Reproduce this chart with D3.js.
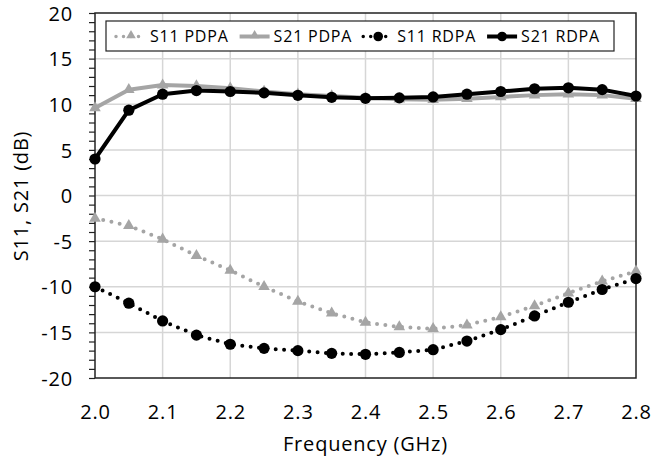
<!DOCTYPE html>
<html>
<head>
<meta charset="utf-8">
<script src="https://cdn.jsdelivr.net/npm/d3@7"></script>
<style>
  html, body { margin: 0; padding: 0; background: #fff; }
  svg text { font-family: "Open Sans", sans-serif; fill: #000; letter-spacing: 0.8px; }
</style>
</head>
<body>
<svg id="chart" width="653" height="462"></svg>
<script>
const freq = [2.0, 2.05, 2.1, 2.15, 2.2, 2.25, 2.3, 2.35, 2.4, 2.45, 2.5, 2.55, 2.6, 2.65, 2.7, 2.75, 2.8];
const s11PDPA = [-2.5, -3.3, -4.8, -6.6, -8.2, -10.0, -11.6, -12.9, -13.9, -14.4, -14.6, -14.2, -13.3, -12.1, -10.7, -9.4, -8.3];
const s21PDPA = [9.6, 11.6, 12.1, 12.0, 11.75, 11.4, 11.1, 10.9, 10.7, 10.55, 10.5, 10.6, 10.8, 11.0, 11.1, 11.0, 10.6];
const s11RDPA = [-10.0, -11.8, -13.75, -15.3, -16.3, -16.75, -17.0, -17.3, -17.4, -17.2, -16.9, -15.95, -14.7, -13.2, -11.7, -10.3, -9.1];
const s21RDPA = [4.0, 9.35, 11.1, 11.5, 11.4, 11.25, 10.98, 10.76, 10.65, 10.7, 10.8, 11.1, 11.4, 11.7, 11.8, 11.6, 10.9];
const seriesNames = ["S11 PDPA", "S21 PDPA", "S11 RDPA", "S21 RDPA"];
const xTicks = [2.0, 2.1, 2.2, 2.3, 2.4, 2.5, 2.6, 2.7, 2.8];
const yTicks = [-20, -15, -10, -5, 0, 5, 10, 15, 20];
const xTitle = "Frequency (GHz)";
const yTitle = "S11, S21 (dB)";

const svg = d3.select("#chart");
const L = 95, R = 636, T = 13, B = 378;
const x = d3.scaleLinear().domain([2.0, 2.8]).range([L, R]);
const y = d3.scaleLinear().domain([-20, 20]).range([B, T]);

const GRAY = "#a5a5a5";
const styles = [
  { name: seriesNames[0], data: s11PDPA, color: GRAY, dotted: true, marker: "tri" },
  { name: seriesNames[1], data: s21PDPA, color: GRAY, dotted: false, marker: "tri" },
  { name: seriesNames[2], data: s11RDPA, color: "#000", dotted: true, marker: "circ" },
  { name: seriesNames[3], data: s21RDPA, color: "#000", dotted: false, marker: "circ" }
];

// grid
const grid = svg.append("g");
grid.selectAll("line.v").data(xTicks.slice(1, -1)).join("line")
  .attr("x1", d => x(d)).attr("x2", d => x(d)).attr("y1", T).attr("y2", B)
  .attr("stroke", "#d6d6d6").attr("stroke-width", 1.5);
grid.selectAll("line.h").data(yTicks.slice(1, -1)).join("line")
  .attr("x1", L).attr("x2", R).attr("y1", d => y(d)).attr("y2", d => y(d))
  .attr("stroke", "#d6d6d6").attr("stroke-width", 1.5);

// left axis with minor ticks
const yAxis = d3.axisLeft(y).tickValues(d3.range(-20, 21, 1)).tickSize(6).tickFormat("");
const ya = svg.append("g").attr("transform", `translate(${L},0)`).call(yAxis);
ya.select(".domain").remove();
ya.selectAll(".tick line").attr("stroke", "#222").attr("stroke-width", 1.2);

// y tick labels
const yl = d3.axisLeft(y).tickValues(yTicks).tickSize(0).tickPadding(22).tickFormat(d => d);
const yla = svg.append("g").attr("transform", `translate(${L},0)`).call(yl);
yla.select(".domain").remove();
yla.selectAll(".tick text").attr("font-size", 20).attr("font-family", null).attr("dy", "0.36em");

// x tick labels
const xl = d3.axisBottom(x).tickValues(xTicks).tickSize(0).tickPadding(0).tickFormat(d3.format(".1f"));
const xla = svg.append("g").attr("transform", `translate(0,${B})`).call(xl);
xla.select(".domain").remove();
xla.selectAll(".tick text").attr("font-size", 20).attr("font-family", null).attr("dy", null).attr("y", 41);

// frame
svg.append("rect").attr("x", L).attr("y", T).attr("width", R - L).attr("height", B - T)
  .attr("fill", "none").attr("stroke", "#222").attr("stroke-width", 1.5);

// series
const line = d3.line().x((d, i) => x(freq[i])).y(d => y(d));
const tri = d3.symbol().type(d3.symbolTriangle).size(58);
styles.forEach(s => {
  const g = svg.append("g");
  g.append("path").attr("d", line(s.data)).attr("fill", "none")
    .attr("stroke", s.color)
    .attr("stroke-width", 4)
    .attr("stroke-linecap", "round").attr("stroke-linejoin", "round")
    .attr("stroke-dasharray", s.dotted ? "0 8.4" : null);
  if (s.marker === "tri") {
    g.selectAll("path.m").data(s.data).join("path")
      .attr("d", tri).attr("fill", s.color)
      .attr("transform", (d, i) => `translate(${x(freq[i])},${y(d)})`);
  } else {
    g.selectAll("circle").data(s.data).join("circle")
      .attr("cx", (d, i) => x(freq[i])).attr("cy", d => y(d)).attr("r", 5.6).attr("fill", s.color);
  }
});

// legend
const lg = svg.append("g");
const box = lg.append("rect").attr("x", 106).attr("y", 21).attr("height", 30)
  .attr("fill", "#fff").attr("stroke", "#222").attr("stroke-width", 1.2);
let cx = 116;
const ly = 36.5;
const triS = d3.symbol().type(d3.symbolTriangle).size(40);
styles.forEach(s => {
  const sw = 30;
  lg.append("line").attr("x1", cx).attr("x2", cx + sw).attr("y1", ly).attr("y2", ly)
    .attr("stroke", s.color).attr("stroke-width", s.dotted ? 3.5 : 4)
    .attr("stroke-linecap", s.dotted ? "round" : "butt")
    .attr("stroke-dasharray", s.dotted ? "0 7.5" : null);
  if (s.marker === "tri") {
    lg.append("path").attr("d", triS).attr("fill", s.color)
      .attr("transform", `translate(${cx + sw / 2},${ly - 1})`);
  } else {
    lg.append("circle").attr("cx", cx + sw / 2).attr("cy", ly).attr("r", 4.8).attr("fill", s.color);
  }
  const t = lg.append("text").attr("x", cx + sw + 4).attr("y", ly).attr("dy", "0.36em")
    .attr("font-size", 16).text(s.name);
  cx += sw + 4 + t.node().getComputedTextLength() + 11;
});
box.attr("width", 614 - 106);

// axis titles
svg.append("text").attr("x", (L + R) / 2).attr("y", 451).attr("text-anchor", "middle")
  .attr("font-size", 20).text(xTitle);
svg.append("text").attr("transform", `translate(28,196) rotate(-90)`).attr("text-anchor", "middle")
  .attr("font-size", 20).text(yTitle);
</script>
</body>
</html>
